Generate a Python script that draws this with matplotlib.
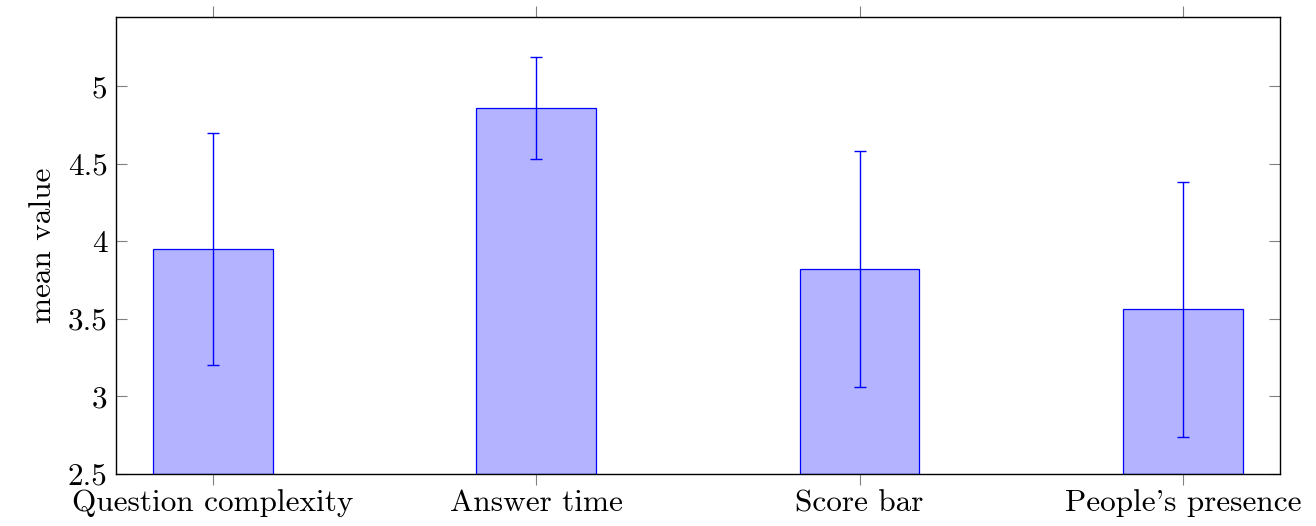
import matplotlib
matplotlib.use('Agg')
import matplotlib.pyplot as plt
import numpy as np

plt.rcParams['font.family'] = 'serif'
plt.rcParams['font.serif'] = ['cmr10', 'DejaVu Serif']
plt.rcParams['mathtext.fontset'] = 'cm'
plt.rcParams['axes.formatter.use_mathtext'] = True

# data
categories = ['Question complexity', 'Answer time', 'Score bar', "People's presence"]
means = [3.95, 4.86, 3.82, 3.56]
errors = [0.75, 0.33, 0.76, 0.82]
yticks = [2.5, 3, 3.5, 4, 4.5, 5]
ytick_labels = ['2.5', '3', '3.5', '4', '4.5', '5']

fig = plt.figure(figsize=(13.16, 5.26), dpi=100)
ax = fig.add_axes([0.0881, 0.0989, 0.8845, 0.8688])

x = np.arange(len(categories))
ax.bar(x, np.array(means) - 2.5, bottom=2.5, width=0.37,
       color=(0.7, 0.7, 1.0), edgecolor='blue', linewidth=0.9)
ax.errorbar(x, means, yerr=errors, fmt='none', ecolor='blue',
            elinewidth=1.0, capsize=4, capthick=1.0)

ax.set_xlim(-0.3, 3.3)
ax.set_ylim(2.5, 5.445)
ax.set_xticks(x)
ax.set_xticklabels(categories, fontsize=22.5)
ax.set_yticks(yticks)
ax.set_yticklabels(ytick_labels, fontsize=22.5)
ax.set_ylabel('mean value', fontsize=22.5, labelpad=8)

ax.tick_params(axis='x', direction='out', top=True, length=8, width=0.8,
               color='gray', pad=3)
ax.tick_params(axis='y', direction='in', right=True, length=8, width=0.8,
               color='gray', pad=6)
for s in ax.spines.values():
    s.set_linewidth(1.0)

fig.savefig('out.png', dpi=100)
